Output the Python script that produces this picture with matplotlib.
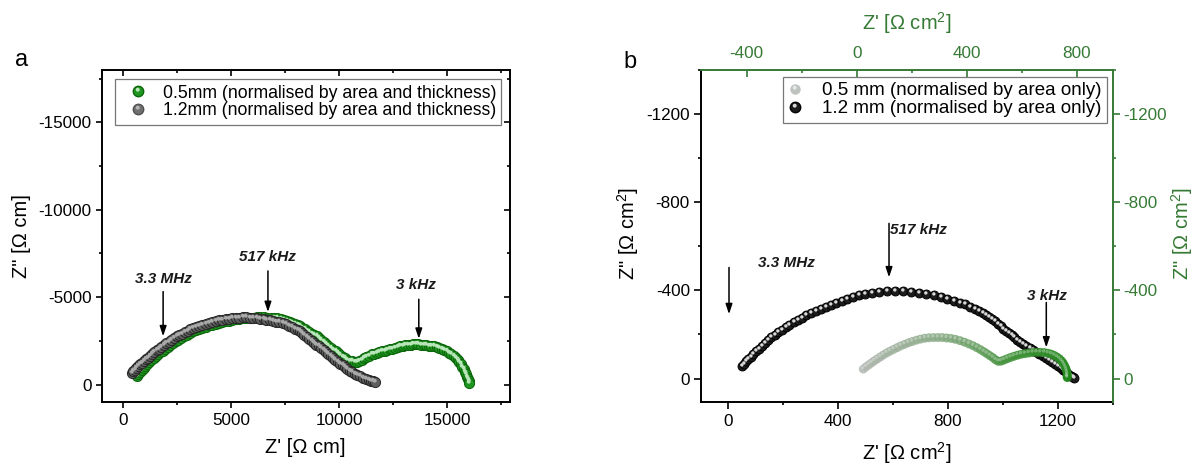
import numpy as np
import matplotlib
matplotlib.use('Agg')
import matplotlib.pyplot as plt
from matplotlib.path import Path
from matplotlib.lines import Line2D
from matplotlib.colors import LinearSegmentedColormap
from matplotlib.ticker import MultipleLocator

plt.rcParams['font.family'] = ['Liberation Sans', 'DejaVu Sans']
plt.rcParams['axes.unicode_minus'] = False
plt.rcParams['mathtext.fontset'] = 'custom'
plt.rcParams['mathtext.rm'] = 'Liberation Sans'

# ---- panel a: normalised by area and thickness (Ohm cm) ----
a05_x = [620, 700, 780, 860, 945, 1030, 1120, 1215, 1310, 1410, 1510, 1615, 1720, 1830, 1945,
         2060, 2180, 2300, 2425, 2550, 2680, 2815, 2950, 3090, 3235, 3380, 3525, 3670, 3820, 3970,
         4120, 4275, 4430, 4585, 4740, 4900, 5060, 5220, 5380, 5540, 5700, 5860, 6020, 6180, 6340,
         6500, 6660, 6820, 6980, 7140, 7290, 7430, 7570, 7700, 7830, 7950, 8070, 8180, 8290, 8400,
         8510, 8620, 8730, 8840, 8950, 9060, 9170, 9280, 9390, 9500, 9610, 9720, 9830, 9940, 10050,
         10160, 10270, 10380, 10490, 10600, 10710, 10820, 10930, 11040, 11150, 11260, 11380, 11500,
         11620, 11740, 11860, 11980, 12100, 12220, 12340, 12460, 12580, 12700, 12820, 12940, 13060,
         13180, 13300, 13420, 13540, 13660, 13780, 13900, 14020, 14140, 14260, 14380, 14500, 14620,
         14740, 14860, 14970, 15080, 15190, 15290, 15390, 15480, 15560, 15630, 15700, 15760, 15820,
         15870, 15920, 15960, 15990, 16000]
a05_y = [-500, -616, -732, -848, -970, -1083, -1183, -1290, -1395, -1506, -1617, -1736, -1848, -1947, -2050,
         -2154, -2262, -2367, -2480, -2575, -2665, -2758, -2851, -2948, -3048, -3113, -3178, -3247, -3315, -3382,
         -3434, -3482, -3530, -3579, -3627, -3664, -3696, -3728, -3760, -3790, -3802, -3815, -3828, -3840, -3850,
         -3840, -3828, -3815, -3800, -3790, -3755, -3710, -3650, -3590, -3540, -3480, -3400, -3330, -3250, -3170,
         -3090, -3000, -2920, -2840, -2760, -2650, -2540, -2430, -2320, -2210, -2100, -1995, -1900, -1800, -1700,
         -1600, -1500, -1420, -1360, -1320, -1300, -1300, -1340, -1420, -1510, -1590, -1660, -1720,
         -1770, -1820, -1860, -1895, -1930, -1970, -2010, -2050, -2095, -2150, -2195, -2225, -2250,
         -2270, -2285, -2295, -2300, -2300, -2290, -2275, -2255, -2230, -2205, -2180, -2140, -2095,
         -2040, -1975, -1905, -1830, -1740, -1640, -1530, -1410, -1280, -1150, -1010, -870, -730,
         -590, -450, -320, -200, -90]

a12_x = [388, 460, 535, 615, 695, 780, 865, 955, 1045, 1140, 1240, 1340, 1445, 1550, 1660,
         1770, 1880, 1995, 2110, 2230, 2350, 2470, 2595, 2720, 2850, 2980, 3110, 3238, 3380, 3525,
         3670, 3820, 3970, 4120, 4275, 4430, 4585, 4740, 4900, 5060, 5220, 5380, 5540, 5700, 5860,
         6020, 6180, 6340, 6500, 6632, 6780, 6930, 7080, 7230, 7400, 7540, 7680, 7820, 7960, 8090,
         8172, 8280, 8390, 8500, 8610, 8720, 8830, 8945, 9055, 9165, 9275, 9385, 9495, 9605, 9713,
         9820, 9930, 10040, 10150, 10260, 10375, 10485, 10600, 10720, 10840, 10970, 11100, 11230,
         11360, 11480, 11580, 11640]
a12_y = [-669, -758, -851, -950, -1049, -1154, -1259, -1363, -1452, -1546, -1645, -1744, -1848, -1952, -2062,
         -2162, -2256, -2355, -2454, -2557, -2660, -2763, -2841, -2919, -3000, -3081, -3163, -3243, -3302, -3362,
         -3423, -3485, -3547, -3591, -3630, -3670, -3708, -3748, -3772, -3791, -3810, -3830, -3849, -3845, -3830,
         -3807, -3784, -3760, -3737, -3718, -3681, -3644, -3607, -3569, -3527, -3440, -3353, -3266, -3180, -3100,
         -3049, -2943, -2834, -2726, -2617, -2509, -2400, -2288, -2179, -2070, -1961, -1852, -1743, -1634, -1527,
         -1421, -1312, -1203, -1094, -985, -871, -761, -691, -618, -545, -462, -383, -330,
         -280, -230, -180, -130]

# ---- panel b: normalised by area only (Ohm cm2) ----
b12_x = [48, 56, 64, 73, 82, 91, 101, 111, 122, 133, 144, 156, 168, 181, 194,
         208, 222, 237, 252, 268, 284, 301, 318, 336, 354, 373, 392, 412, 432, 453,
         475, 498, 523, 550, 578, 606, 635, 664, 693, 721, 748, 774, 798, 821, 842,
         862, 880, 897, 912, 926, 939, 951, 962, 972, 982, 992, 1002, 1012, 1022, 1032,
         1042, 1052, 1062, 1072, 1085, 1097, 1109, 1121, 1133, 1145, 1157, 1168, 1179, 1190,
         1200, 1210, 1218, 1226, 1234, 1241, 1248, 1254, 1258]
b12_y = [-57, -68, -78, -89, -100, -111, -123, -134, -147, -160, -175, -187, -199, -210, -222,
         -233, -245, -256, -267, -277, -287, -297, -307, -316, -325, -335, -343, -352, -361, -370,
         -377, -384, -390, -394, -397, -398, -397, -394, -390, -383, -377, -369, -361, -353, -345,
         -336, -326, -316, -306, -298, -290, -280, -270, -259, -248, -238, -227, -216, -206, -197,
         -187, -177, -168, -158, -148, -139, -130, -121, -112, -104, -95, -86, -77, -68,
         -58, -49, -40, -32, -25, -18, -12, -7, -3]

# 0.5 mm trace, read against the top / right (green) axes
b05_x = [24, 34, 44, 54, 64, 75, 86, 97, 109, 121, 134, 147, 160, 174, 188,
         202, 217, 232, 248, 263, 279, 295, 311, 327, 343, 359, 376, 392, 408, 423,
         437, 450, 462, 473, 484, 495, 505, 515, 525, 536, 548, 560, 572, 585, 598,
         612, 626, 640, 654, 668, 682, 695, 707, 718, 728, 737, 745, 751, 756, 760,
         763, 765, 766, 765, 766]
b05_y = [-43, -53, -62, -71, -80, -89, -98, -107, -116, -124, -132, -140, -148, -155, -162,
         -168, -174, -179, -183, -185, -186, -186, -186, -184, -182, -178, -172, -165, -157, -149,
         -140, -131, -122, -113, -104, -95, -85, -78, -79, -84, -90, -96, -101, -106, -110,
         -113, -116, -118, -119, -119, -118, -115, -111, -105, -98, -90, -80, -70, -59, -48,
         -37, -27, -17, -9, -4]

labels_a = ['0.5mm (normalised by area and thickness)', '1.2mm (normalised by area and thickness)']
labels_b = ['0.5 mm (normalised by area only)', '1.2 mm (normalised by area only)']

GREEN_AX = '#357a35'
UNIT_B = " [\u03a9 cm$^2$]"

# small light spot drawn on top of each marker so they look like beads
HL = Path.make_compound_path(
    Path([[-1.0, -1.0], [1.0, 1.0]], [Path.MOVETO, Path.MOVETO]),
    Path.circle((-0.15, 0.35), 0.38))


def spheres(ax, x, y, ms, face, edge, shine, alpha=1.0, z=3):
    base, = ax.plot(x, y, ls='none', marker='o', ms=ms, mfc=face, mec=edge,
                    mew=0.7, alpha=alpha, zorder=z)
    glow, = ax.plot(x, y, ls='none', marker=HL, ms=ms, mfc=shine, mec='none',
                    mew=0, alpha=alpha, zorder=z)
    return base, glow


def arrow(ax, x, y0, y1):
    ax.annotate('', xy=(x, y1), xytext=(x, y0),
                arrowprops=dict(arrowstyle='-|>,head_length=0.6,head_width=0.2',
                                lw=1.1, color='black', shrinkA=0, shrinkB=0))


def freq(ax, x, y, s):
    ax.text(x, y, s, ha='center', va='center', fontsize=11,
            fontweight='bold', fontstyle='italic', color='#1a1a1a')


fig = plt.figure(figsize=(11.93, 4.66), dpi=100)

# ---------------- panel a ----------------
pos_a = [0.0851, 0.1373, 0.3424, 0.7125]
ax = fig.add_axes(pos_a)
spheres(ax, a05_x, a05_y, 7.3, '#1f961f', '#0c650c', '#b9e6b9')
spheres(ax, a12_x, a12_y, 7.3, '#5e5e5e', '#262626', '#a9a9a9', z=4)
ax.set_xlim(-1000, 17900)
ax.set_ylim(1000, -18000)
ax.xaxis.set_major_locator(MultipleLocator(5000))
ax.xaxis.set_minor_locator(MultipleLocator(2500))
ax.yaxis.set_major_locator(MultipleLocator(5000))
ax.yaxis.set_minor_locator(MultipleLocator(2500))
ax.tick_params(which='both', direction='out', width=1.2, labelsize=12.3)
ax.tick_params(which='major', length=4)
ax.tick_params(which='minor', length=2.5)
ax.tick_params(axis='x', pad=4)
ax.tick_params(axis='y', pad=3)
for sp in ax.spines.values():
    sp.set_linewidth(1.4)

# inward ticks on top and right
ax_in = fig.add_axes(pos_a, label='a_in', facecolor='none')
ax_in.set_xlim(ax.get_xlim())
ax_in.set_ylim(ax.get_ylim())
ax_in.xaxis.set_major_locator(MultipleLocator(5000))
ax_in.xaxis.set_minor_locator(MultipleLocator(2500))
ax_in.yaxis.set_major_locator(MultipleLocator(5000))
ax_in.yaxis.set_minor_locator(MultipleLocator(2500))
ax_in.xaxis.tick_top()
ax_in.yaxis.tick_right()
ax_in.tick_params(which='both', direction='in', width=1.2, labeltop=False, labelright=False)
ax_in.tick_params(which='major', length=4)
ax_in.tick_params(which='minor', length=2.5)
for sp in ax_in.spines.values():
    sp.set_visible(False)

arrow(ax, 1850, -5320, -2760)
freq(ax, 1880, -6020, '3.3 MHz')
arrow(ax, 6700, -6500, -4150)
freq(ax, 6690, -7300, '517 kHz')
arrow(ax, 13680, -4880, -2620)
freq(ax, 13560, -5680, '3 kHz')

h_a = [(Line2D([], [], ls='none', marker='o', ms=7.5, mfc='#1f961f', mec='#0c650c'),
        Line2D([], [], ls='none', marker=HL, ms=7.5, mfc='#b9e6b9', mec='none')),
       (Line2D([], [], ls='none', marker='o', ms=7.5, mfc='#707070', mec='#505050'),
        Line2D([], [], ls='none', marker=HL, ms=7.5, mfc='#b5b5b5', mec='none'))]
leg = ax_in.legend(h_a, labels_a, loc='upper left', bbox_to_anchor=(0.033, 0.972),
                   borderaxespad=0, fontsize=12.7, frameon=True, fancybox=False,
                   borderpad=0.3, labelspacing=0.05, handlelength=2.0, handletextpad=0.4)
leg.get_frame().set_edgecolor('#555555')
leg.get_frame().set_linewidth(0.9)

ax.text(0.498, -0.1355, "Z' [\u03a9 cm]", transform=ax.transAxes, ha='center', va='center', fontsize=14.5)
ax.text(-0.195, 0.5, 'Z" [\u03a9 cm]', transform=ax.transAxes, ha='center', va='center',
        rotation=90, fontsize=14.5)
fig.text(22 / 1193, 1 - 60 / 466, 'a', ha='center', va='center', fontsize=17)

# ---------------- panel b ----------------
pos_b = [0.5876, 0.138, 0.3451, 0.7118]
bx = fig.add_axes(pos_b)
spheres(bx, b12_x, b12_y, 6.4, '#1c1c1c', '#000000', '#d9d9d9')
bx.set_xlim(-100, 1400)
bx.set_ylim(105, -1400)
bx.xaxis.set_major_locator(MultipleLocator(400))
bx.xaxis.set_minor_locator(MultipleLocator(200))
bx.yaxis.set_major_locator(MultipleLocator(400))
bx.yaxis.set_minor_locator(MultipleLocator(200))
bx.tick_params(which='both', direction='out', width=1.2, labelsize=12.3)
bx.tick_params(which='major', length=5)
bx.tick_params(which='minor', length=2.5)
bx.tick_params(axis='x', pad=4)
bx.tick_params(axis='y', pad=3)
for sp in bx.spines.values():
    sp.set_linewidth(1.4)
bx.spines['top'].set_visible(False)
bx.spines['right'].set_visible(False)

tx = fig.add_axes(pos_b, label='b_top', facecolor='none')
idx = np.arange(len(b05_x))
cmap_g = LinearSegmentedColormap.from_list('g', ['#b3b8b3', '#8aab86', '#3d9135', '#1f861a'])
tx.scatter(b05_x, b05_y, s=6.4 ** 2, c=idx, cmap=cmap_g, edgecolors='none', alpha=0.85, zorder=3)
tx.scatter(b05_x, b05_y, s=6.4 ** 2, marker=HL, c='white', edgecolors='none', alpha=0.3, zorder=3)
tx.set_xlim(-566, 931)
tx.set_ylim(105, -1400)
tx.xaxis.set_major_locator(MultipleLocator(400))
tx.xaxis.set_minor_locator(MultipleLocator(200))
tx.yaxis.set_major_locator(MultipleLocator(400))
tx.yaxis.set_minor_locator(MultipleLocator(200))
tx.xaxis.tick_top()
tx.yaxis.tick_right()
tx.tick_params(which='both', colors=GREEN_AX, labelcolor=GREEN_AX, width=1.2, labelsize=12.3)
tx.tick_params(axis='x', which='both', direction='in', pad=6.5)
tx.tick_params(axis='y', which='both', direction='out', pad=2.5)
tx.tick_params(which='major', length=5)
tx.tick_params(which='minor', length=2.5)
for side in ['left', 'bottom']:
    tx.spines[side].set_visible(False)
for side in ['top', 'right']:
    tx.spines[side].set_color(GREEN_AX)
    tx.spines[side].set_linewidth(1.4)

arrow(bx, 2, -504, -292)
freq(bx, 212, -524, '3.3 MHz')
arrow(bx, 585, -704, -459)
freq(bx, 691, -674, '517 kHz')
arrow(bx, 1158, -345, -141)
freq(bx, 1160, -375, '3 kHz')

h_b = [(Line2D([], [], ls='none', marker='o', ms=7.5, mfc='#bfc3bf', mec='none'),
        Line2D([], [], ls='none', marker=HL, ms=7.5, mfc='#e6e9e6', mec='none')),
       (Line2D([], [], ls='none', marker='o', ms=7.5, mfc='#1c1c1c', mec='#000000'),
        Line2D([], [], ls='none', marker=HL, ms=7.5, mfc='#d9d9d9', mec='none'))]
leg_b = tx.legend(h_b, labels_b, loc='upper left', bbox_to_anchor=(0.1985, 0.98),
                  borderaxespad=0, fontsize=13.5, frameon=True, fancybox=False,
                  borderpad=0.3, labelspacing=0.03, handlelength=0.7, handletextpad=1.1)
leg_b.get_frame().set_edgecolor('#555555')
leg_b.get_frame().set_linewidth(0.9)

bx.text(0.4996, -0.1547, "Z'" + UNIT_B, transform=bx.transAxes, ha='center', va='center', fontsize=14.5)
bx.text(-0.177, 0.508, 'Z"' + UNIT_B, transform=bx.transAxes, ha='center', va='center',
        rotation=90, fontsize=14.5)
tx.text(0.4996, 1.1408, "Z'" + UNIT_B, transform=tx.transAxes, ha='center', va='center',
        fontsize=14.5, color=GREEN_AX)
tx.text(1.1676, 0.508, 'Z"' + UNIT_B, transform=tx.transAxes, ha='center', va='center',
        rotation=90, fontsize=14.5, color=GREEN_AX)
fig.text(630 / 1193, 1 - 62 / 466, 'b', ha='center', va='center', fontsize=17)

fig.savefig('out.png', dpi=100)
